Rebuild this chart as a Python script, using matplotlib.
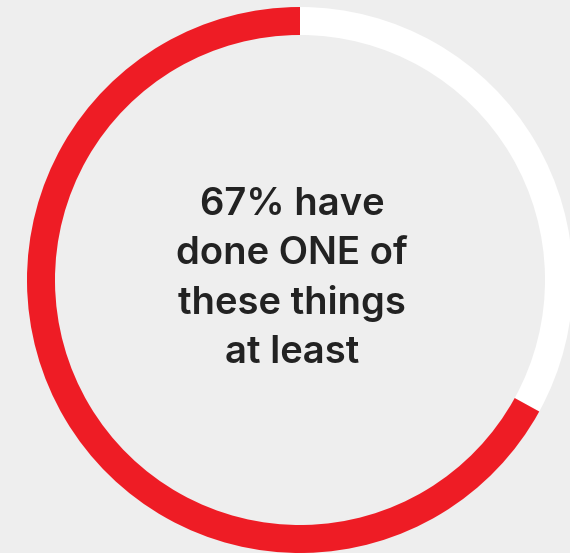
import matplotlib
matplotlib.use("Agg")
import matplotlib.pyplot as plt

labels = ["not done", "done at least one"]
shares = [33, 67]
slice_colors = ["#FFFFFF", "#EE1C25"]
center_text = "67% have\ndone ONE of\nthese things\nat least"

W, H = 570, 553
bg = "#EEEEEE"

fig = plt.figure(figsize=(W / 100, H / 100), dpi=100, facecolor=bg)
ax = fig.add_axes([0, 0, 1, 1])
ax.set_facecolor(bg)

ax.pie(shares, colors=slice_colors, startangle=90, counterclock=False,
       center=(300, H - 280), radius=273,
       wedgeprops=dict(width=28, linewidth=0))

ax.text(292, H - 279, center_text, ha="center", va="center",
        fontsize=27.5, family=["Inter", "DejaVu Sans"], weight="semibold",
        color="#222222", linespacing=1.47)

ax.set_xlim(0, W)
ax.set_ylim(0, H)
ax.set_aspect("equal")
ax.axis("off")

fig.savefig("out.png", dpi=100, facecolor=bg)
